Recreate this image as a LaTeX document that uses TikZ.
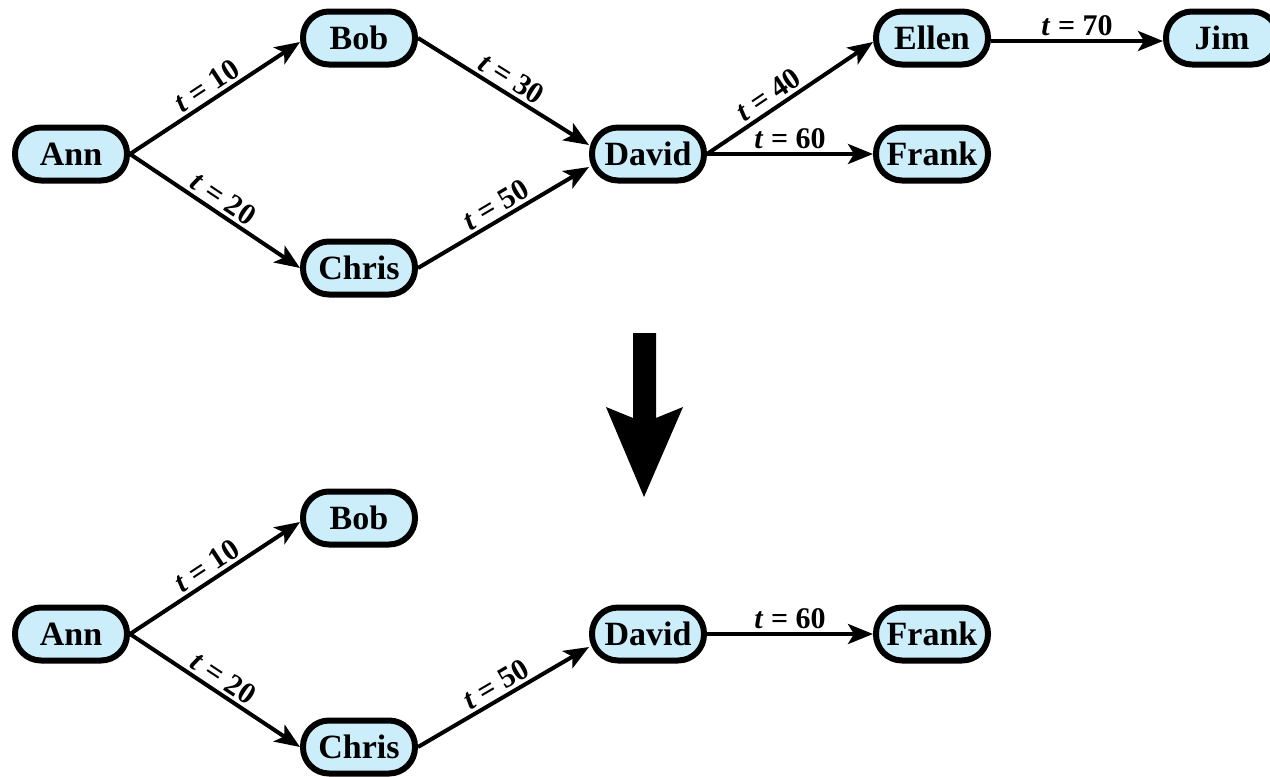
\documentclass[tikz,border=0pt]{standalone}
\usepackage{fontspec}
\setmainfont{Liberation Serif}
\usetikzlibrary{arrows.meta}
\definecolor{boxfill}{RGB}{204,238,250}
\tikzset{
  person/.style={draw=black, line width=6pt, fill=boxfill, rectangle, rounded corners=26pt,
    minimum width=112pt, minimum height=53pt, inner sep=2pt,
    font=\fontsize{34}{36}\selectfont\bfseries},
  edge/.style={line width=4pt, -{Stealth[length=25pt,width=20pt,inset=6pt]}},
  lbl/.style={sloped, above, inner sep=3pt, font=\fontsize{30}{32}\selectfont\bfseries},
}
\newcommand{\tl}[1]{\textit{t} = #1}
\begin{document}
\begin{tikzpicture}[x=1pt,y=-1pt]
\useasboundingbox (0,0) rectangle (1270,777);
% upper graph
\node[person] (A1) at (71,154) {Ann};
\node[person] (B1) at (359,38) {Bob};
\node[person] (C1) at (359,268) {Chris};
\node[person] (D1) at (648,154) {David};
\node[person] (E1) at (932,38) {Ellen};
\node[person] (F1) at (932,154) {Frank};
\node[person] (J1) at (1222,38) {Jim};
\draw[edge] (A1.east) -- node[lbl] {\tl{10}} ([yshift=-4pt]B1.west);
\draw[edge] (A1.east) -- node[lbl] {\tl{20}} (C1.west);
\draw[edge] (B1.east) -- node[lbl] {\tl{30}} ([yshift=9pt]D1.west);
\draw[edge] (C1.east) -- node[lbl] {\tl{50}} ([yshift=-13pt]D1.west);
\draw[edge] (D1.east) -- node[lbl, pos=0.42] {\tl{40}} ([yshift=-4pt]E1.west);
\draw[edge] (D1.east) -- node[lbl] {\tl{60}} (F1.west);
\draw[edge] ([yshift=-3pt]E1.east) -- node[lbl] {\tl{70}} ([yshift=-3pt]J1.west);
% big arrow
\fill[black] (633,333) -- (656,333) -- (656,418) -- (683,407) -- (644,497) -- (606,407) -- (633,418) -- cycle;
% lower graph
\node[person] (A2) at (71,634) {Ann};
\node[person] (B2) at (359,518) {Bob};
\node[person] (C2) at (359,747) {Chris};
\node[person] (D2) at (648,634) {David};
\node[person] (F2) at (932,634) {Frank};
\draw[edge] (A2.east) -- node[lbl] {\tl{10}} ([yshift=-4pt]B2.west);
\draw[edge] (A2.east) -- node[lbl] {\tl{20}} (C2.west);
\draw[edge] (C2.east) -- node[lbl] {\tl{50}} ([yshift=-13pt]D2.west);
\draw[edge] (D2.east) -- node[lbl] {\tl{60}} (F2.west);
\end{tikzpicture}
\end{document}
